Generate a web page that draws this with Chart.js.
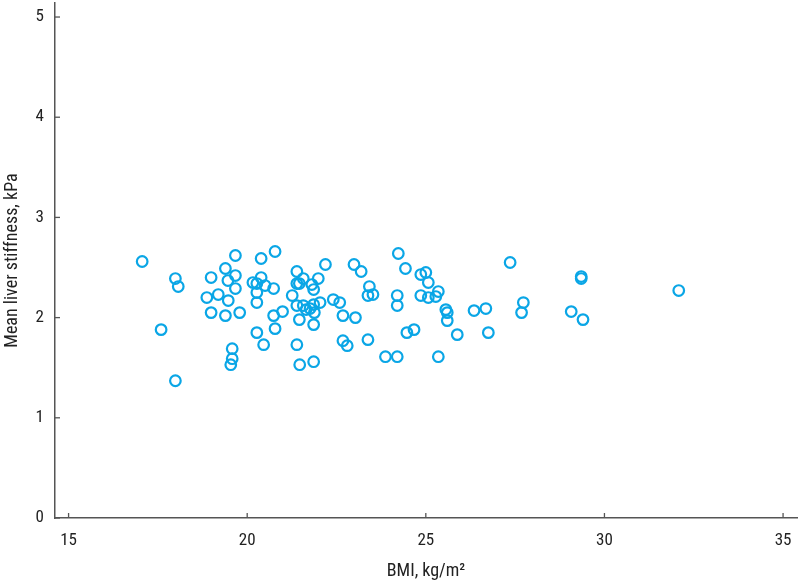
<!DOCTYPE html>
<html>
<head>
<meta charset="utf-8">
<script src="https://cdn.jsdelivr.net/npm/chart.js@4.4.1/dist/chart.umd.min.js"></script>
<style>
html,body{margin:0;padding:0;background:#fff;}
#wrap{width:800px;height:582px;}
</style>
</head>
<body>
<div id="wrap"><canvas id="c" width="800" height="582"></canvas></div>
<script>
const bmi = [
17.06,17.99,18.07,19.67,19.39,18.99,19.67,19.46,19.67,18.87,19.19,19.47,18.99,19.39,19.79,17.59,19.58,19.58,19.54,17.99,
20.39,20.78,20.16,20.27,20.39,20.50,20.27,20.74,20.27,20.74,20.27,20.78,20.46,
22.19,22.99,23.19,24.23,24.43,21.39,21.39,21.46,21.57,21.81,21.99,21.86,21.26,21.39,21.57,21.65,21.76,21.86,22.04,21.88,
20.99,21.46,21.86,22.41,22.59,22.68,23.03,23.42,23.38,23.52,24.20,24.20,21.39,22.68,22.80,23.38,21.47,21.86,23.87,24.20,24.47,24.67,
27.36,24.86,25.00,25.07,24.86,25.07,25.28,25.35,25.56,25.60,25.60,26.35,26.68,27.73,27.68,25.88,26.75,25.35,
29.35,29.35,32.08,29.07,29.40
];
const stiffness = [
2.56,2.39,2.31,2.62,2.49,2.40,2.42,2.37,2.29,2.20,2.23,2.17,2.05,2.02,2.05,1.88,1.69,1.59,1.53,1.37,
2.59,2.66,2.35,2.34,2.40,2.32,2.25,2.29,2.15,2.02,1.85,1.89,1.73,
2.53,2.53,2.46,2.64,2.49,2.46,2.34,2.34,2.39,2.33,2.39,2.28,2.22,2.12,2.12,2.08,2.09,2.13,2.15,2.05,
2.06,1.98,1.93,2.18,2.15,2.02,2.00,2.31,2.22,2.23,2.22,2.12,1.73,1.77,1.72,1.78,1.53,1.56,1.61,1.61,1.85,1.88,
2.55,2.43,2.45,2.35,2.22,2.20,2.21,2.26,2.08,2.05,1.97,2.07,2.09,2.15,2.05,1.83,1.85,1.61,
2.41,2.39,2.27,2.06,1.98
];
const xTicks = [15,20,25,30,35];
const yTicks = [0,1,2,3,4,5];

const FONT = "'Liberation Sans Narrow','Roboto Condensed','Arial Narrow',sans-serif";
const AXIS = '#555555';

const innerTicks = {
  id:'innerTicks',
  afterDraw(chart){
    const ctx = chart.ctx, a = chart.chartArea;
    const xs = chart.scales.x, ys = chart.scales.y;
    ctx.save();
    ctx.strokeStyle = AXIS; ctx.lineWidth = 1.3;
    xTicks.forEach(v=>{ const p = xs.getPixelForValue(v); ctx.beginPath(); ctx.moveTo(p, a.bottom); ctx.lineTo(p, a.bottom-5); ctx.stroke(); });
    yTicks.forEach(v=>{ const p = ys.getPixelForValue(v); ctx.beginPath(); ctx.moveTo(a.left, p); ctx.lineTo(a.left+5, p); ctx.stroke(); });
    ctx.restore();
  }
};

new Chart(document.getElementById('c'), {
  type:'scatter',
  data:{ datasets:[{
    data: bmi.map((v,i)=>({x:v, y:stiffness[i]})),
    pointRadius:5.3, pointBorderWidth:2.2,
    pointBorderColor:'#0aa6e6', pointBackgroundColor:'rgba(255,255,255,0)',
    pointHoverRadius:5.3
  }]},
  options:{
    responsive:false, animation:false,
    layout:{autoPadding:false, padding:{top:3,right:3,left:0,bottom:0}},
    plugins:{legend:{display:false}, tooltip:{enabled:false}},
    scales:{
      x:{
        type:'linear', min:14.62, max:35.39,
        afterBuildTicks(s){ s.ticks = xTicks.map(v=>({value:v})); },
        afterFit(s){ s.height = 64; s.paddingLeft = 0; s.paddingRight = 0; },
        grid:{display:true, drawOnChartArea:false, drawTicks:false},
        border:{display:true, color:AXIS, width:1.5},
        ticks:{padding:13, color:'#222', font:{family:FONT, size:17}, maxRotation:0, autoSkip:false},
        title:{display:true, text:'BMI, kg/m²', color:'#222', font:{family:FONT, size:18}, padding:{top:4,bottom:0}}
      },
      y:{
        type:'linear', min:0, max:5.14,
        afterBuildTicks(s){ s.ticks = yTicks.map(v=>({value:v})); },
        afterFit(s){ s.width = 55; s.paddingTop = 0; s.paddingBottom = 0; },
        grid:{display:true, drawOnChartArea:false, drawTicks:false},
        border:{display:true, color:AXIS, width:1.5},
        ticks:{padding:11, color:'#222', font:{family:FONT, size:17}, autoSkip:false},
        title:{display:true, text:'Mean liver stiffness, kPa', color:'#222', font:{family:FONT, size:18}, padding:{top:2,bottom:0}}
      }
    }
  },
  plugins:[innerTicks]
});
</script>
</body>
</html>
